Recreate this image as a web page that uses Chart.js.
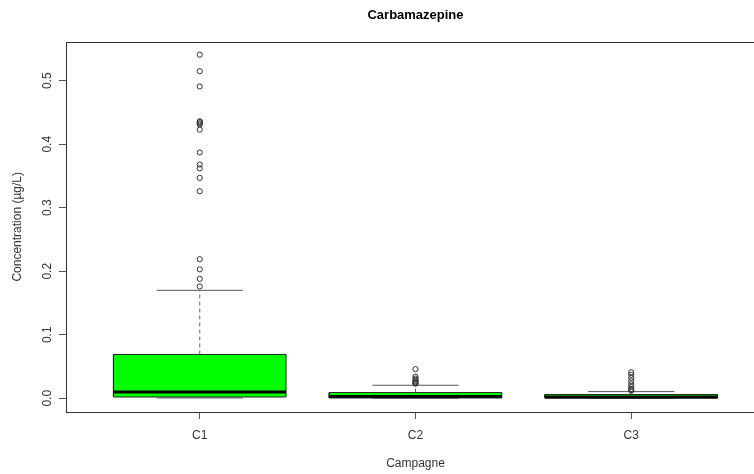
<!DOCTYPE html>
<html>
<head>
<meta charset="utf-8">
<title>Carbamazepine</title>
<script src="https://cdn.jsdelivr.net/npm/chart.js@4.4.1/dist/chart.umd.min.js"></script>
<style>
  html, body { margin: 0; padding: 0; background: #fff; overflow: hidden; }
  #wrap { width: 754px; height: 474px; overflow: hidden; }
</style>
</head>
<body>
<div id="wrap"><canvas id="chart" width="800" height="474"></canvas></div>
<script>
// boxplot stats per campaign (µg/L)
const categories = ['C1', 'C2', 'C3'];
const whiskerLow = [0.0005, 0.0, 0.0];
const q1 = [0.002, 0.0005, 0.0003];
const median = [0.010, 0.003, 0.002];
const q3 = [0.069, 0.009, 0.006];
const whiskerHigh = [0.170, 0.0205, 0.0105];

const outliersC1 = [0.541, 0.515, 0.491, 0.436, 0.435, 0.433, 0.431, 0.423, 0.387, 0.368,
                    0.362, 0.347, 0.326, 0.219, 0.203, 0.188, 0.176];
const outliersC2 = [0.046, 0.034, 0.031, 0.029, 0.027, 0.025, 0.024, 0.023];
const outliersC3 = [0.041, 0.037, 0.032, 0.027, 0.022, 0.018, 0.015, 0.013, 0.012];
const outliers = [outliersC1, outliersC2, outliersC3];

const yTicks = [0.0, 0.1, 0.2, 0.3, 0.4, 0.5];

const BOX_HALF = 0.4;   // box width 0.8 (R default)
const CAP_HALF = 0.2;

Chart.defaults.font.family = '"Liberation Sans", Arial, sans-serif';
Chart.defaults.color = '#333';

const datasets = [];

categories.forEach((cat, i) => {
  const x = i + 1;
  // box
  datasets.push({
    data: [
      { x: x - BOX_HALF, y: q1[i] }, { x: x + BOX_HALF, y: q1[i] },
      { x: x + BOX_HALF, y: q3[i] }, { x: x - BOX_HALF, y: q3[i] },
      { x: x - BOX_HALF, y: q1[i] }
    ],
    showLine: true, fill: 'shape', backgroundColor: '#00ff00',
    borderColor: '#222', borderWidth: 1, pointRadius: 0, order: 3
  });
  // median
  datasets.push({
    data: [{ x: x - BOX_HALF, y: median[i] }, { x: x + BOX_HALF, y: median[i] }],
    showLine: true, borderColor: '#000', borderWidth: 3, pointRadius: 0, order: 1
  });
  // whiskers (dashed)
  datasets.push({
    data: [{ x: x, y: q3[i] }, { x: x, y: whiskerHigh[i] }],
    showLine: true, borderColor: '#666', borderWidth: 1, borderDash: [4, 3], pointRadius: 0, order: 2
  });
  datasets.push({
    data: [{ x: x, y: q1[i] }, { x: x, y: whiskerLow[i] }],
    showLine: true, borderColor: '#666', borderWidth: 1, borderDash: [4, 3], pointRadius: 0, order: 2
  });
  // caps
  datasets.push({
    data: [{ x: x - CAP_HALF, y: whiskerHigh[i] }, { x: x + CAP_HALF, y: whiskerHigh[i] }],
    showLine: true, borderColor: '#555', borderWidth: 1, pointRadius: 0, order: 2
  });
  datasets.push({
    data: [{ x: x - CAP_HALF, y: whiskerLow[i] }, { x: x + CAP_HALF, y: whiskerLow[i] }],
    showLine: true, borderColor: '#555', borderWidth: 1, pointRadius: 0, order: 2
  });
  // outliers
  datasets.push({
    data: outliers[i].map(v => ({ x: x, y: v })),
    showLine: false, pointStyle: 'circle', pointRadius: 2.6,
    pointBackgroundColor: 'rgba(0,0,0,0)', pointBorderColor: '#333', pointBorderWidth: 1, order: 0
  });
});

// frame around the plot region, like R's box()
const frame = {
  id: 'frame',
  afterDraw(chart) {
    const { ctx, chartArea: a } = chart;
    ctx.save();
    ctx.strokeStyle = '#333';
    ctx.lineWidth = 1;
    ctx.strokeRect(Math.round(a.left) + 0.5, Math.round(a.top) + 0.5,
                   Math.round(a.right - a.left), Math.round(a.bottom - a.top));
    ctx.restore();
  }
};

new Chart(document.getElementById('chart'), {
  type: 'scatter',
  data: { datasets },
  plugins: [frame],
  options: {
    responsive: false,
    animation: false,
    layout: { padding: { left: 0, right: 35, top: 0, bottom: 0 } },
    plugins: {
      legend: { display: false },
      tooltip: { enabled: false },
      title: {
        display: true, text: 'Carbamazepine', fullSize: false, color: '#000',
        font: { size: 13, weight: 'bold' }, padding: { top: 8, bottom: 18 }
      }
    },
    scales: {
      x: {
        type: 'linear', min: 0.38, max: 3.62,
        afterBuildTicks: s => { s.ticks = categories.map((c, i) => ({ value: i + 1 })); },
        afterFit: s => { s.height = 62; },
        ticks: { callback: v => categories[v - 1], font: { size: 12 }, padding: 9, color: '#333' },
        grid: { drawOnChartArea: false, drawTicks: true, tickLength: 7, color: '#555' },
        border: { display: false },
        title: { display: true, text: 'Campagne', font: { size: 12 }, color: '#333', padding: { top: 3, bottom: 3 } }
      },
      y: {
        type: 'linear', min: -0.0216, max: 0.5616,
        afterBuildTicks: s => { s.ticks = yTicks.map(v => ({ value: v })); },
        afterFit: s => { s.width = 66; },
        ticks: {
          callback: v => v.toFixed(1), font: { size: 12 }, color: '#333',
          minRotation: 90, maxRotation: 90, crossAlign: 'center', padding: 3
        },
        grid: { drawOnChartArea: false, drawTicks: true, tickLength: 7, color: '#555' },
        border: { display: false },
        title: { display: true, text: 'Concentration (µg/L)', font: { size: 12 }, color: '#333', padding: 10 }
      }
    }
  }
});
</script>
</body>
</html>
